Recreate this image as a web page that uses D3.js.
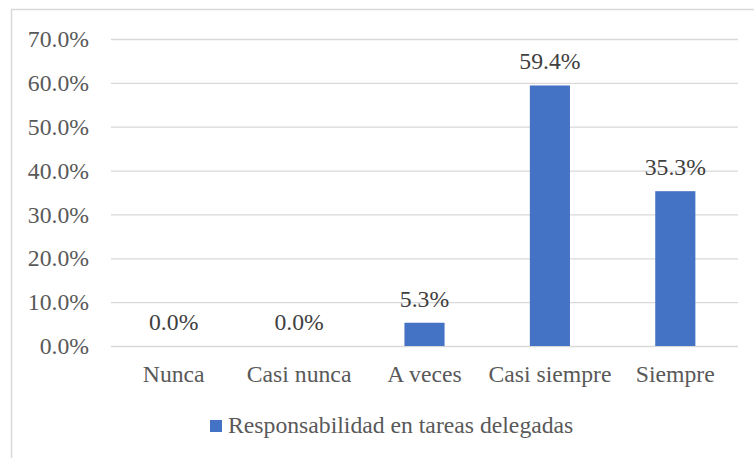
<!DOCTYPE html>
<html>
<head>
<meta charset="utf-8">
<script src="https://cdn.jsdelivr.net/npm/d3@7"></script>
<style>
  body { margin: 0; background: #fff; }
</style>
</head>
<body>
<div id="chart"></div>
<script>
const categories = ["Nunca", "Casi nunca", "A veces", "Casi siempre", "Siempre"];
const values = [0.0, 0.0, 5.3, 59.4, 35.3];
const yTicks = [0, 10, 20, 30, 40, 50, 60, 70];
const seriesName = "Responsabilidad en tareas delegadas";

const width = 754, height = 458;
const margin = { top: 39, right: 16, bottom: 112, left: 111 };
const serif = "'Liberation Serif', 'Times New Roman', Tinos, 'DejaVu Serif', serif";
const fontSize = 23.7;

const svg = d3.select("#chart").append("svg")
  .attr("width", width).attr("height", height)
  .style("font-family", serif);

// outer chart border (cropped at right/bottom in the original)
svg.append("rect")
  .attr("x", 11.5).attr("y", 9.5)
  .attr("width", width).attr("height", height)
  .attr("fill", "none").attr("stroke", "#d9d9d9").attr("stroke-width", 1.5);

const x = d3.scaleBand()
  .domain(categories)
  .range([margin.left, width - margin.right])
  .paddingInner(0.68).paddingOuter(0.34);

const y = d3.scaleLinear()
  .domain([0, 70])
  .range([height - margin.bottom, margin.top]);

// gridlines + y labels
const gY = svg.append("g")
  .call(d3.axisLeft(y).tickValues(yTicks)
    .tickFormat((d) => d.toFixed(1) + "%")
    .tickSize(-(width - margin.right - margin.left))
    .tickPadding(22))
  .attr("transform", `translate(${margin.left},0)`)
  .attr("font-family", serif);
gY.select(".domain").remove();
gY.selectAll("line").attr("stroke", "#d9d9d9").attr("stroke-width", 1.3);
gY.selectAll("text").attr("font-size", fontSize).attr("fill", "#595959");

// bars
svg.append("g").selectAll("rect")
  .data(values)
  .join("rect")
  .attr("x", (d, i) => x(categories[i]))
  .attr("y", (d) => y(d))
  .attr("width", x.bandwidth())
  .attr("height", (d) => y(0) - y(d))
  .attr("fill", "#4472c4");

// value labels
svg.append("g").selectAll("text")
  .data(values)
  .join("text")
  .attr("x", (d, i) => x(categories[i]) + x.bandwidth() / 2)
  .attr("y", (d) => y(d) - 16)
  .attr("text-anchor", "middle")
  .attr("font-size", fontSize)
  .attr("fill", "#404040")
  .text((d) => d.toFixed(1) + "%");

// category labels
svg.append("g").selectAll("text")
  .data(categories)
  .join("text")
  .attr("x", (d) => x(d) + x.bandwidth() / 2)
  .attr("y", 382)
  .attr("text-anchor", "middle")
  .attr("font-size", fontSize)
  .attr("fill", "#595959")
  .text((d) => d);

// legend
const legend = svg.append("g").attr("transform", "translate(210,420)");
legend.append("rect").attr("width", 12).attr("height", 12).attr("fill", "#4472c4");
legend.append("text")
  .attr("x", 18).attr("y", 13)
  .attr("font-size", fontSize)
  .attr("fill", "#595959")
  .text(seriesName);
</script>
</body>
</html>
